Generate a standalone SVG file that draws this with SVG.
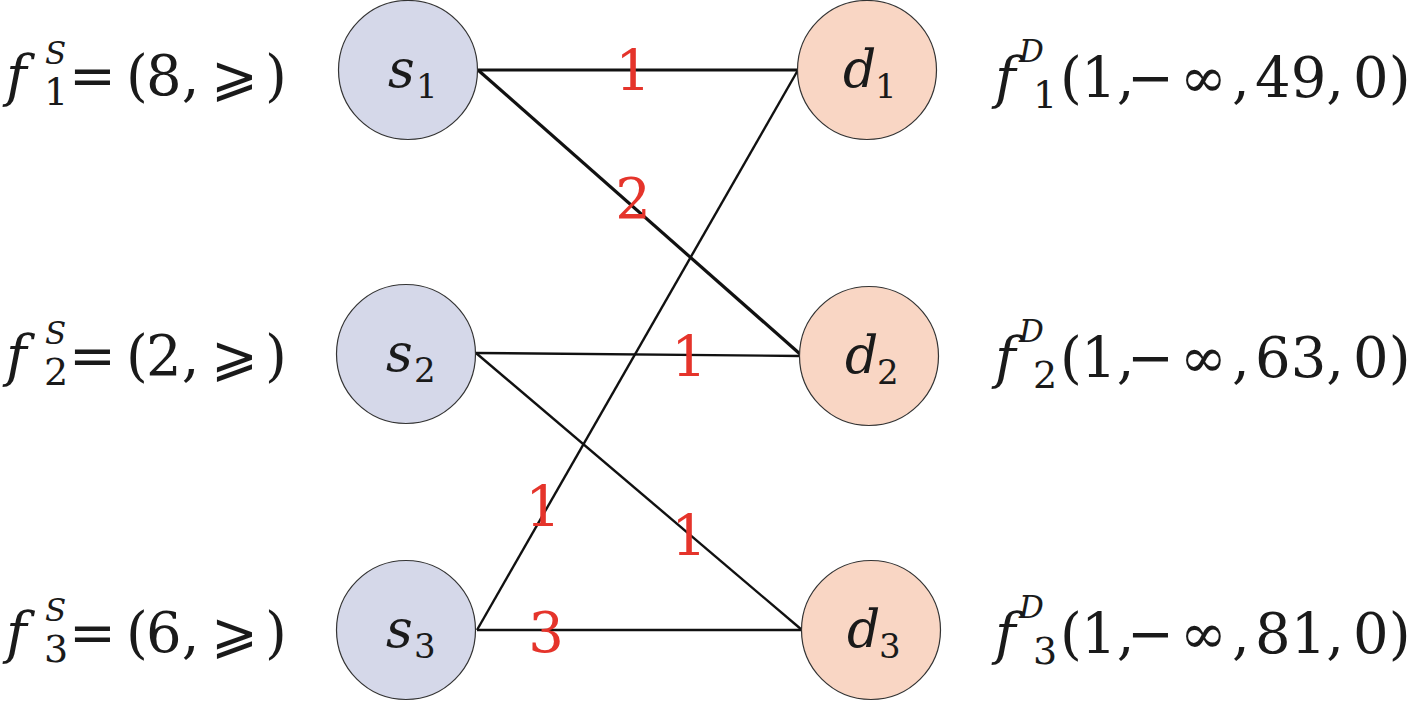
<svg xmlns="http://www.w3.org/2000/svg" width="1415" height="701" viewBox="0 0 1415 701">
<style>
text{font-family:'DejaVu Serif',serif}
.t{fill:#1a1a1a}
.m{font-size:56px}
.i{font-style:italic}
.sup{font-size:31px;font-style:italic}
.sub{font-size:38px}
.nl{font-size:52px;font-style:italic}
.ns{font-size:34px}
.src{fill:#d5d8e9;stroke:#333;stroke-width:1.2}
.dst{fill:#f9d6c4;stroke:#333;stroke-width:1.2}
.e{stroke:#111;stroke-width:2.4;fill:none}
.e2{stroke:#111;stroke-width:3.2;fill:none}
.w{font-size:56px;fill:#e5342b;text-anchor:middle}
</style>
<g id="connectors">
<line class="e2" x1="478" y1="70" x2="798" y2="70"/>
<line class="e2" x1="478" y1="70" x2="800" y2="354"/>
<line class="e" x1="798" y1="70" x2="477" y2="630"/>
<line class="e" x1="476" y1="353" x2="800" y2="356"/>
<line class="e" x1="476" y1="353" x2="802" y2="630"/>
<line class="e" x1="477" y1="630" x2="802" y2="630"/>
<text class="w" x="633" y="90">1</text>
<text class="w" x="633" y="218">2</text>
<text class="w" x="689" y="376">1</text>
<text class="w" x="543" y="526">1</text>
<text class="w" x="689" y="555">1</text>
<text class="w" x="546" y="652">3</text>
</g>
<g id="s1">
<circle class="src" cx="408" cy="70" r="69.5"/>
<text class="t nl" x="388" y="87">s</text><text class="t ns" x="416" y="98">1</text>
</g>
<g id="s2">
<circle class="src" cx="406" cy="354" r="69.5"/>
<text class="t nl" x="386" y="371">s</text><text class="t ns" x="414" y="382">2</text>
</g>
<g id="s3">
<circle class="src" cx="406" cy="630" r="69.5"/>
<text class="t nl" x="386" y="647">s</text><text class="t ns" x="414" y="658">3</text>
</g>
<g id="d1">
<circle class="dst" cx="867" cy="70" r="69.5"/>
<text class="t nl" x="843" y="87">d</text><text class="t ns" x="875" y="98">1</text>
</g>
<g id="d2">
<circle class="dst" cx="869" cy="356" r="69.5"/>
<text class="t nl" x="845" y="373">d</text><text class="t ns" x="877" y="384">2</text>
</g>
<g id="d3">
<circle class="dst" cx="871" cy="630" r="69.5"/>
<text class="t nl" x="847" y="647">d</text><text class="t ns" x="879" y="658">3</text>
</g>
<g id="fs1">
<text class="t m i" x="6" y="95">f</text>
<text class="t sup" x="45" y="64">S</text>
<text class="t sub" x="44" y="105">1</text>
<text class="t m" x="69" y="95">= <tspan x="126">(</tspan><tspan x="146">8, </tspan><tspan x="211">⩾</tspan><tspan x="265">)</tspan></text>
</g>
<g id="fs2">
<text class="t m i" x="6" y="375">f</text>
<text class="t sup" x="45" y="344">S</text>
<text class="t sub" x="44" y="385">2</text>
<text class="t m" x="69" y="375">= <tspan x="126">(</tspan><tspan x="146">2, </tspan><tspan x="211">⩾</tspan><tspan x="265">)</tspan></text>
</g>
<g id="fs3">
<text class="t m i" x="6" y="652">f</text>
<text class="t sup" x="45" y="621">S</text>
<text class="t sub" x="44" y="662">3</text>
<text class="t m" x="69" y="652">= <tspan x="126">(</tspan><tspan x="146">6, </tspan><tspan x="211">⩾</tspan><tspan x="265">)</tspan></text>
</g>
<g id="fd1">
<text class="t m i" x="995" y="97">f</text>
<text class="t sup" x="1019" y="62">D</text>
<text class="t sub" x="1033" y="108">1</text>
<text class="t m" x="1060" y="97">(<tspan x="1081">1, </tspan><tspan x="1127">−</tspan><tspan x="1180">∞ </tspan><tspan x="1232">, </tspan><tspan x="1255">49, </tspan><tspan x="1353">0)</tspan></text>
</g>
<g id="fd2">
<text class="t m i" x="995" y="377">f</text>
<text class="t sup" x="1019" y="342">D</text>
<text class="t sub" x="1033" y="388">2</text>
<text class="t m" x="1060" y="377">(<tspan x="1081">1, </tspan><tspan x="1127">−</tspan><tspan x="1180">∞ </tspan><tspan x="1232">, </tspan><tspan x="1255">63, </tspan><tspan x="1353">0)</tspan></text>
</g>
<g id="fd3">
<text class="t m i" x="995" y="653">f</text>
<text class="t sup" x="1019" y="618">D</text>
<text class="t sub" x="1033" y="664">3</text>
<text class="t m" x="1060" y="653">(<tspan x="1081">1, </tspan><tspan x="1127">−</tspan><tspan x="1180">∞ </tspan><tspan x="1232">, </tspan><tspan x="1255">81, </tspan><tspan x="1353">0)</tspan></text>
</g>
</svg>
